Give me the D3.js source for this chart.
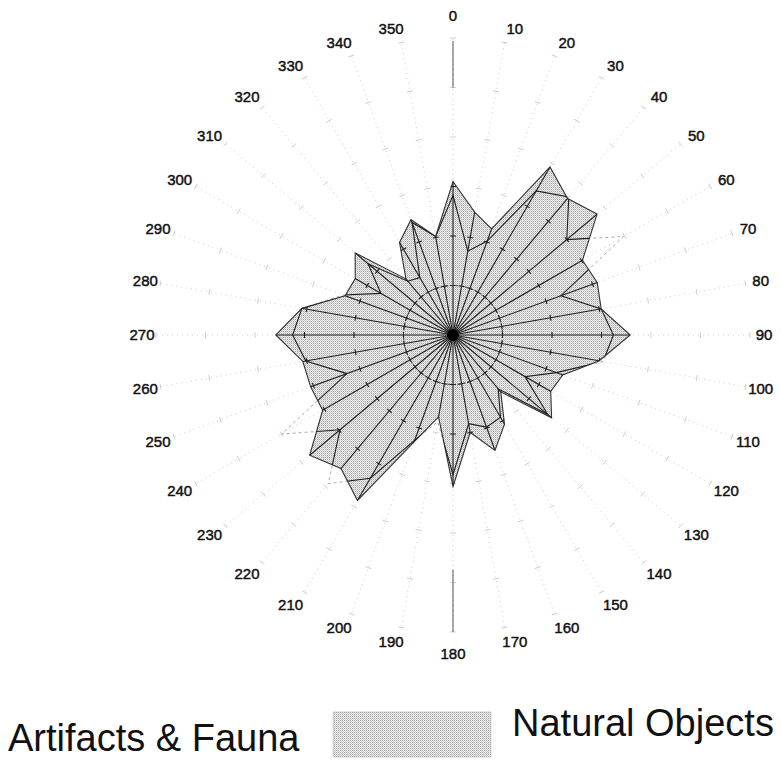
<!DOCTYPE html>
<meta charset="utf-8">

<style>
  body { margin: 0; background: #fff; }
  .labels text {
    font: 15px "Liberation Sans", Arial, sans-serif;
    fill: #111;
    stroke: #111;
    stroke-width: 0.45px;
  }
  .legend text {
    font: 38px "Liberation Sans", Arial, sans-serif;
    fill: #111;
  }
</style>

<svg width="781" height="767"></svg>

<script src="https://d3js.org/d3.v7.min.js"></script>
<script>
// ====================================================================
// directions (degrees) and the two series
const directions = [0, 10, 20, 30, 40, 50, 60, 70, 80, 90, 100, 110, 120, 130, 140, 150, 160, 170,
                    180, 190, 200, 210, 220, 230, 240, 250, 260, 270, 280, 290, 300, 310, 320, 330, 340, 350]

const naturalObjects = [15.5, 12.6, 11.4, 19.6, 18.0, 19.0, 15.1, 15.5, 15.2, 17.9, 15.0, 11.8,
                        11.4, 13.0, 7.5, 10.4, 12.4, 10.0, 15.3, 8.4, 11.5, 19.3, 17.6, 18.9,
                        15.2, 15.3, 15.4, 17.9, 15.5, 11.6, 11.4, 12.9, 7.4, 10.8, 12.4, 10.1]

const artifactsFauna = [14.1, 8.6, 10.1, 16.8, 18.2, 15.0, 19.9, 11.6, 15.2, 16.2, 15.4, 11.1,
                        8.4, 12.5, 7.1, 9.6, 9.9, 9.1, 14.1, 8.9, 11.3, 16.7, 19.6, 14.9,
                        20.0, 11.4, 15.1, 16.2, 15.5, 11.8, 8.4, 11.2, 7.1, 6.7, 12.1, 10.1]

const radialTicks = [5, 10, 15, 20, 25, 30]

const legendItems = ["Artifacts & Fauna", "Natural Objects"]

// ====================================================================
const svg = d3.select("svg")
const cx = 453, cy = 335

const r = d3.scaleLinear().domain([0, 30]).range([0, 297])
const a = d3.scaleLinear().domain([0, 360]).range([0, 2 * Math.PI])

const natural = directions.map((d, i) => ({angle: d, value: naturalObjects[i]}))
const artifacts = directions.map((d, i) => ({angle: d, value: artifactsFauna[i]}))

const radial = d3.lineRadial()
    .angle(d => a(d.angle))
    .radius(d => r(d.value))
    .curve(d3.curveLinearClosed)

// stipple fill like the halftone in the scan
const defs = svg.append("defs")
const pat = defs.append("pattern")
    .attr("id", "stipple")
    .attr("patternUnits", "userSpaceOnUse")
    .attr("width", 2).attr("height", 2)
pat.append("rect").attr("width", 2).attr("height", 2).attr("fill", "#ededed")
pat.append("rect").attr("width", 1).attr("height", 1).attr("fill", "#a2a2a2")
pat.append("rect").attr("x", 1).attr("y", 1).attr("width", 1).attr("height", 1).attr("fill", "#cfcfcf")

defs.append("clipPath").attr("id", "inside")
  .append("path").attr("d", radial(natural))

const chart = svg.append("g").attr("transform", `translate(${cx},${cy})`)

const drawAxes = (g, color, width, dash) => {
    const spoke = g.selectAll("g.spoke")
        .data(directions)
        .enter().append("g")
        .attr("class", "spoke")
        .attr("transform", d => `rotate(${d})`)
    spoke.append("line")
        .attr("x1", 0).attr("y1", 0)
        .attr("x2", 0).attr("y2", -r(30))
        .attr("stroke", color)
        .attr("stroke-width", width)
        .attr("stroke-dasharray", dash)
    spoke.selectAll("line.tick")
        .data(radialTicks)
        .enter().append("line")
        .attr("class", "tick")
        .attr("x1", -3).attr("x2", 3)
        .attr("y1", t => -r(t)).attr("y2", t => -r(t))
        .attr("stroke", color)
        .attr("stroke-width", width)
}

// faint axes everywhere (they mostly dropped out of the scan)
drawAxes(chart.append("g"), "#c4c4c4", 0.8, "1,4")

// the 0 and 180 spokes came through darker near the rim
chart.append("line").attr("x1", 0).attr("x2", 0)
    .attr("y1", -r(30) + 3).attr("y2", -r(25))
    .attr("stroke", "#555").attr("stroke-width", 1)
chart.append("line").attr("x1", 0).attr("x2", 0)
    .attr("y1", r(23.7)).attr("y2", r(30))
    .attr("stroke", "#555").attr("stroke-width", 1)

// artifacts outline, faint outside the shaded area
chart.append("path")
    .attr("d", radial(artifacts))
    .attr("fill", "none")
    .attr("stroke", "#a0a0a0")
    .attr("stroke-width", 0.9)
    .attr("stroke-dasharray", "3,3")

// natural objects area
chart.append("path")
    .attr("d", radial(natural))
    .attr("fill", "url(#stipple)")
    .attr("stroke", "#333")
    .attr("stroke-width", 1.1)

// dark lines inside the shaded area
const inner = chart.append("g").attr("clip-path", "url(#inside)")
drawAxes(inner, "#1e1e1e", 1.1, null)

inner.append("path")
    .attr("d", radial(artifacts))
    .attr("fill", "none")
    .attr("stroke", "#1e1e1e")
    .attr("stroke-width", 1.1)

chart.append("circle")
    .attr("r", r(5))
    .attr("fill", "none")
    .attr("stroke", "#333")
    .attr("stroke-width", 1)
    .attr("stroke-dasharray", "3,2")

chart.append("circle").attr("r", 6).attr("fill", "#000")

// direction labels
chart.append("g").attr("class", "labels")
    .selectAll("text")
    .data(directions)
    .enter().append("text")
    .attr("text-anchor", "middle")
    .attr("dy", "0.36em")
    .attr("x", d => {
        const t = a(d)
        return 311 * Math.sin(t) + 8 * Math.sign(Math.round(Math.sin(t) * 1e6)) * Math.abs(Math.cos(t))
    })
    .attr("y", d => {
        const t = a(d)
        const extra = Math.abs(Math.sin(t)) < 1e-6 ? 8 : 0
        return -(311 + extra) * Math.cos(t)
    })
    .text(d => d)

// legend
const legend = svg.append("g").attr("class", "legend")
legend.append("text")
    .attr("x", 8).attr("y", 751)
    .text(legendItems[0])
legend.append("rect")
    .attr("x", 333).attr("y", 712)
    .attr("width", 158).attr("height", 45)
    .attr("fill", "url(#stipple)")
    .attr("stroke", "#b8b8b8")
    .attr("stroke-width", 0.6)
legend.append("text")
    .attr("x", 512).attr("y", 736)
    .text(legendItems[1])
</script>
